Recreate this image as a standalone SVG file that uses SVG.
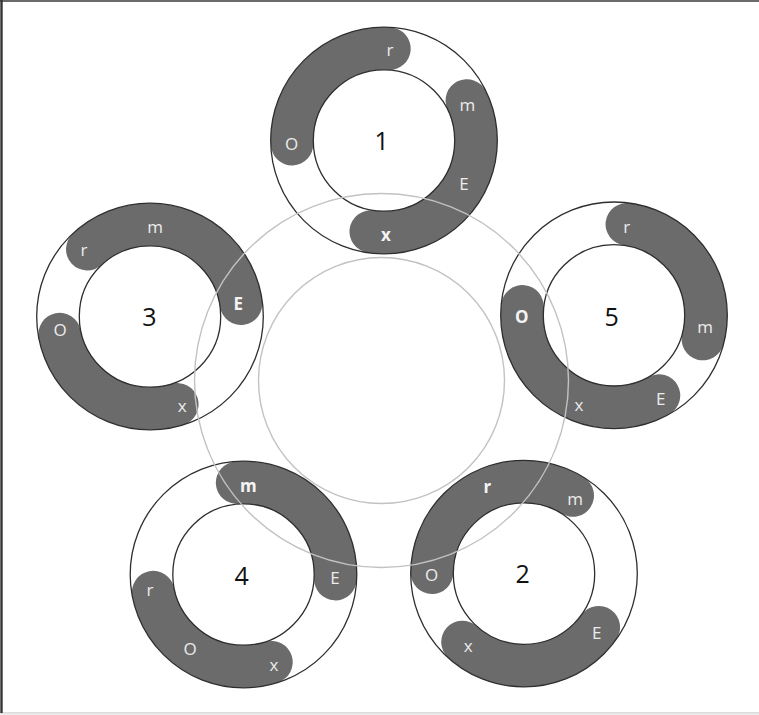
<svg xmlns="http://www.w3.org/2000/svg" width="759" height="715" viewBox="0 0 759 715">
<style>
.bg{fill:#ffffff}
.band{fill:none;stroke:#6b6b6b;stroke-width:42.5;stroke-linecap:round}
.ring{fill:none;stroke:#2e2e2e;stroke-width:1.3}
.guide{fill:none;stroke:#c2c2c2;stroke-width:1.4}
.lb{font-family:"Open Sans","Noto Sans","Liberation Sans",sans-serif;font-size:17px;fill:#ececec;text-anchor:middle}
.b{font-weight:bold;fill:#f4f4f4}
.num{font-family:"Open Sans","Noto Sans","Liberation Sans",sans-serif;font-size:25px;fill:#111111;text-anchor:middle}
</style>
<rect class="bg" x="0" y="0" width="759" height="715"/>
<rect x="0" y="713" width="759" height="2" fill="#ececec"/>
<line x1="0" y1="712.8" x2="759" y2="712.8" stroke="#cfcfcf" stroke-width="1"/>
<line x1="0" y1="1" x2="759" y2="1" stroke="#6a6a6a" stroke-width="2"/>
<line x1="1.5" y1="0" x2="1.5" y2="713" stroke="#333333" stroke-width="2.4"/>

<g id="ring1">
<path class="band" d="M292.07,144.19 A92,92 0 0 1 389.46,48.66"/>
<path class="band" d="M466.83,100.46 A92,92 0 0 1 370.72,231.54"/>
<circle class="ring" cx="384" cy="140.5" r="113.3"/>
<circle class="ring" cx="384" cy="140.5" r="70.7"/>
</g>
<g id="ring3">
<path class="band" d="M87.26,249.22 A92,92 0 0 1 241.10,303.70"/>
<path class="band" d="M177.36,404.34 A92,92 0 0 1 59.69,334.05"/>
<circle class="ring" cx="150" cy="316.5" r="113.3"/>
<circle class="ring" cx="150" cy="316.5" r="70.7"/>
</g>
<g id="ring5">
<path class="band" d="M626.80,224.20 A92,92 0 0 1 702.87,339.11"/>
<path class="band" d="M659.02,395.53 A92,92 0 0 1 522.44,306.32"/>
<circle class="ring" cx="614" cy="315.3" r="113.3"/>
<circle class="ring" cx="614" cy="315.3" r="70.7"/>
</g>
<g id="ring4">
<path class="band" d="M237.08,482.72 A92,92 0 0 1 335.38,579.15"/>
<path class="band" d="M271.47,662.14 A92,92 0 0 1 153.19,592.05"/>
<circle class="ring" cx="243.5" cy="574.5" r="113.3"/>
<circle class="ring" cx="243.5" cy="574.5" r="70.7"/>
</g>
<g id="ring2">
<path class="band" d="M432.0,572.8 A92,92 0 0 1 572.75,495.58"/>
<path class="band" d="M598.81,627.16 A92,92 0 0 1 462.44,641.97"/>
<circle class="ring" cx="524" cy="573.6" r="113.3"/>
<circle class="ring" cx="524" cy="573.6" r="70.7"/>
</g>

<g id="connectors">
<circle class="guide" cx="381.5" cy="380.5" r="187"/>
<circle class="guide" cx="381.5" cy="380.5" r="123"/>
</g>

<g id="labels1">
<text class="lb" x="390" y="55.5">r</text>
<text class="lb" x="467.3" y="110.8">m</text>
<text class="lb" x="291.7" y="150.2">O</text>
<text class="lb" x="464" y="189.5">E</text>
<text class="lb b" x="386" y="240.8">x</text>
<text class="num" x="381.7" y="149.7">1</text>
</g>
<g id="labels3">
<text class="lb" x="155" y="233.1">m</text>
<text class="lb" x="84" y="255.8">r</text>
<text class="lb b" x="238.3" y="310.2">E</text>
<text class="lb" x="60" y="336.2">O</text>
<text class="lb" x="182.3" y="411.5">x</text>
<text class="num" x="149.3" y="325.7">3</text>
</g>
<g id="labels5">
<text class="lb" x="626.7" y="232.5">r</text>
<text class="lb b" x="521.7" y="322.9">O</text>
<text class="lb" x="705" y="333.1">m</text>
<text class="lb" x="579" y="410.5">x</text>
<text class="lb" x="660.7" y="404.5">E</text>
<text class="num" x="611.7" y="325.7">5</text>
</g>
<g id="labels4">
<text class="lb b" x="248.3" y="491.5">m</text>
<text class="lb" x="335" y="583.5">E</text>
<text class="lb" x="150" y="595.5">r</text>
<text class="lb" x="190" y="654.5">O</text>
<text class="lb" x="274" y="670.8">x</text>
<text class="num" x="241.7" y="585">4</text>
</g>
<g id="labels2">
<text class="lb b" x="487.3" y="493.1">r</text>
<text class="lb" x="575" y="504.8">m</text>
<text class="lb" x="431.7" y="581.2">O</text>
<text class="lb" x="596.7" y="638.9">E</text>
<text class="lb" x="468.3" y="652.1">x</text>
<text class="num" x="522.7" y="583">2</text>
</g>
</svg>
